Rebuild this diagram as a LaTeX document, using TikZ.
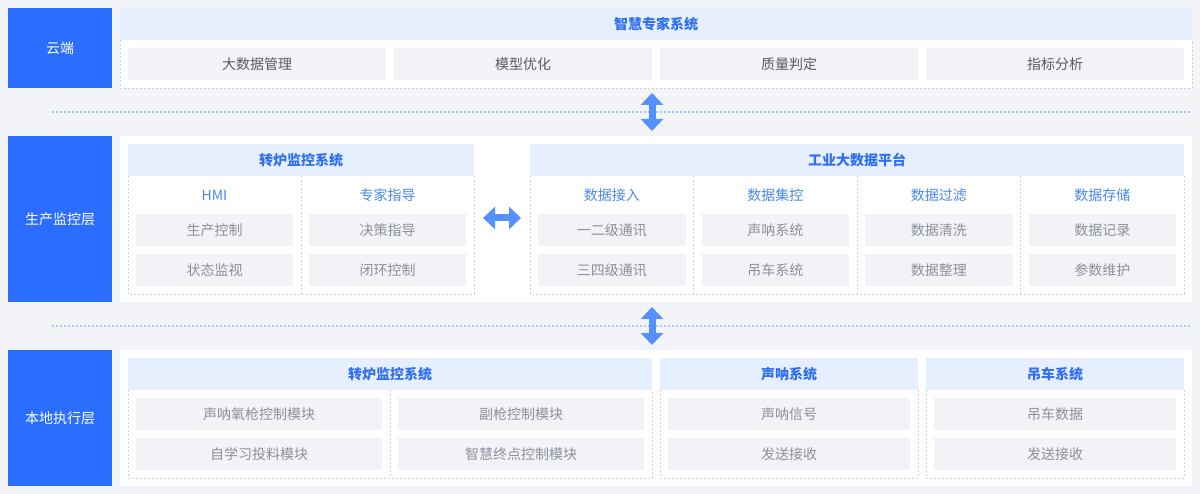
\documentclass[tikz,border=0pt]{standalone}
\usepackage{fontspec}
\setmainfont{Noto Sans CJK SC}
\usetikzlibrary{arrows.meta}
\definecolor{bgc}{HTML}{F3F4F8}
\definecolor{labblue}{HTML}{2B6DFF}
\definecolor{hdrfill}{HTML}{E6EFFD}
\definecolor{hdrtext}{HTML}{2F6FF0}
\definecolor{subtext}{HTML}{4A87F7}
\definecolor{cellfill}{HTML}{F2F3F7}
\definecolor{celltext}{HTML}{8C909C}
\definecolor{darktext}{HTML}{555A64}
\definecolor{dashc}{HTML}{D0D0D5}
\definecolor{dotc}{HTML}{A8C5FA}
\definecolor{arrc}{HTML}{5590FF}
\tikzset{
  base/.style={inner sep=0pt, outer sep=0pt, font=\fontsize{14}{16}\selectfont},
  layerlab/.style={base, fill=labblue, text=white, minimum width=104pt},
  hdr/.style={base, fill=hdrfill, text=hdrtext, minimum height=32pt, font=\fontsize{14}{16}\selectfont\bfseries},
  cell/.style={base, fill=cellfill, text=celltext, minimum height=32pt},
  cloudcell/.style={cell, text=darktext},
  sub/.style={base, text=subtext},
  dashbox/.style={draw=dashc, line width=0.8pt, dash pattern=on 2pt off 2pt},
  sep/.style={draw=dotc, line width=2pt, dash pattern=on 2pt off 2pt},
  dbl/.style={draw=arrc, line width=7pt, {Triangle[width=22pt,length=12pt]}-{Triangle[width=22pt,length=12pt]}},
}
\begin{document}
\begin{tikzpicture}[x=1pt,y=-1pt]
\useasboundingbox (0,0) rectangle (1200,494);
\fill[bgc] (0,0) rectangle (1200,494);

% separators
\coordinate (s1a) at (52,112); \coordinate (s1b) at (1192,112);
\coordinate (s2a) at (52,326); \coordinate (s2b) at (1192,326);
\draw[sep] (s1a) -- (s1b);
\draw[sep] (s2a) -- (s2b);

% ===== Cloud =====
\node[layerlab, minimum height=80pt] (L1) at (60,48) {云端};
\fill[white] (120,8) rectangle (1192,88);
\draw[dashbox] (120,40) -- (120,88) -- (1192,88) -- (1192,40);
\node[hdr, minimum width=1072pt] (H1) at (656,24) {智慧专家系统};
\node[cloudcell, minimum width=258pt] (c11) at (257,64) {大数据管理};
\node[cloudcell, minimum width=258pt] (c12) at (523,64) {模型优化};
\node[cloudcell, minimum width=258pt] (c13) at (789,64) {质量判定};
\node[cloudcell, minimum width=258pt] (c14) at (1055,64) {指标分析};

% ===== Production monitoring =====
\node[layerlab, minimum height=166pt] (L2) at (60,219) {生产监控层};
\fill[white] (120,136) rectangle (1192,302);
% box A
\draw[dashbox] (128,176) -- (128,294) -- (474,294) -- (474,176);
\draw[dashbox] (301,176) -- (301,294);
\node[hdr, minimum width=346pt] (HA) at (301,160) {转炉监控系统};
\node[sub] (sa1) at (214.5,195) {HMI};
\node[sub] (sa2) at (387.5,195) {专家指导};
\node[cell, minimum width=157pt] (a11) at (214.5,230) {生产控制};
\node[cell, minimum width=157pt] (a12) at (214.5,270) {状态监视};
\node[cell, minimum width=157pt] (a21) at (387.5,230) {决策指导};
\node[cell, minimum width=157pt] (a22) at (387.5,270) {闭环控制};
% box B
\draw[dashbox] (530,176) -- (530,294) -- (1184,294) -- (1184,176);
\draw[dashbox] (693.5,176) -- (693.5,294);
\draw[dashbox] (857,176) -- (857,294);
\draw[dashbox] (1020.5,176) -- (1020.5,294);
\node[hdr, minimum width=654pt] (HB) at (857,160) {工业大数据平台};
\node[sub] (sb1) at (611.75,195) {数据接入};
\node[sub] (sb2) at (775.25,195) {数据集控};
\node[sub] (sb3) at (938.75,195) {数据过滤};
\node[sub] (sb4) at (1102.25,195) {数据存储};
\node[cell, minimum width=147.5pt] (b11) at (611.75,230) {一二级通讯};
\node[cell, minimum width=147.5pt] (b12) at (611.75,270) {三四级通讯};
\node[cell, minimum width=147.5pt] (b21) at (775.25,230) {声呐系统};
\node[cell, minimum width=147.5pt] (b22) at (775.25,270) {吊车系统};
\node[cell, minimum width=147.5pt] (b31) at (938.75,230) {数据清洗};
\node[cell, minimum width=147.5pt] (b32) at (938.75,270) {数据整理};
\node[cell, minimum width=147.5pt] (b41) at (1102.25,230) {数据记录};
\node[cell, minimum width=147.5pt] (b42) at (1102.25,270) {参数维护};
% horizontal arrow
\coordinate (ha) at (483,218); \coordinate (hb) at (521,218);
\draw[dbl] (ha) -- (hb);

% ===== Local execution =====
\node[layerlab, minimum height=136pt] (L3) at (60,418) {本地执行层};
\fill[white] (120,350) rectangle (1192,486);
% box C
\draw[dashbox] (128,390) -- (128,478) -- (652,478) -- (652,390);
\draw[dashbox] (390,390) -- (390,478);
\node[hdr, minimum width=524pt] (HC) at (390,374) {转炉监控系统};
\node[cell, minimum width=246pt] (c1a) at (259,414) {声呐氧枪控制模块};
\node[cell, minimum width=246pt] (c1b) at (259,454) {自学习投料模块};
\node[cell, minimum width=246pt] (c2a) at (521,414) {副枪控制模块};
\node[cell, minimum width=246pt] (c2b) at (521,454) {智慧终点控制模块};
% box D
\draw[dashbox] (660,390) -- (660,478) -- (918,478) -- (918,390);
\node[hdr, minimum width=258pt] (HD) at (789,374) {声呐系统};
\node[cell, minimum width=242pt] (d1) at (789,414) {声呐信号};
\node[cell, minimum width=242pt] (d2) at (789,454) {发送接收};
% box E
\draw[dashbox] (926,390) -- (926,478) -- (1184,478) -- (1184,390);
\node[hdr, minimum width=258pt] (HE) at (1055,374) {吊车系统};
\node[cell, minimum width=242pt] (e1) at (1055,414) {吊车数据};
\node[cell, minimum width=242pt] (e2) at (1055,454) {发送接收};

% vertical arrows
\coordinate (v1a) at (652,93); \coordinate (v1b) at (652,131);
\coordinate (v2a) at (652,307); \coordinate (v2b) at (652,345);
\draw[dbl] (v1a) -- (v1b);
\draw[dbl] (v2a) -- (v2b);
\end{tikzpicture}
\end{document}
